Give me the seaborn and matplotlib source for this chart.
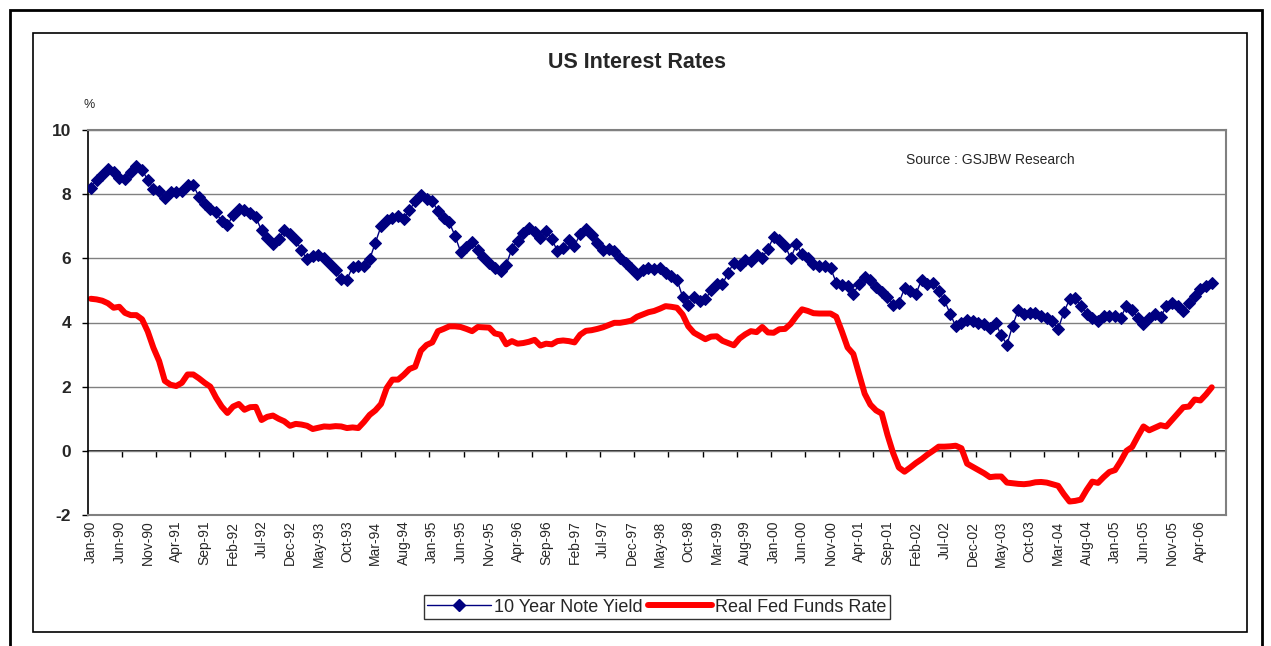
import numpy as np
import pandas as pd
import matplotlib
matplotlib.use("Agg")
import matplotlib.pyplot as plt
import seaborn as sns
from matplotlib.patches import Rectangle
from matplotlib.lines import Line2D

# monthly data, Jan-90 .. Jun-06
months = pd.date_range("1990-01-01", periods=198, freq="MS")

note_yield = [
    8.2, 8.45, 8.6, 8.78, 8.7, 8.5, 8.47, 8.68, 8.88, 8.75,
    8.45, 8.16, 8.1, 7.88, 8.08, 8.06, 8.1, 8.3, 8.28, 7.92,
    7.7, 7.55, 7.43, 7.15, 7.03, 7.35, 7.55, 7.5, 7.4, 7.28,
    6.87, 6.63, 6.45, 6.6, 6.88, 6.75, 6.58, 6.25, 5.97, 6.07,
    6.1, 6.0, 5.82, 5.65, 5.36, 5.33, 5.74, 5.76, 5.76, 5.97,
    6.48, 7.0, 7.18, 7.25, 7.32, 7.22, 7.5, 7.78, 7.98, 7.84,
    7.78, 7.48, 7.27, 7.12, 6.7, 6.2, 6.34, 6.52, 6.25, 6.05,
    5.85, 5.7, 5.6, 5.8, 6.3, 6.55, 6.8, 6.95, 6.82, 6.62,
    6.85, 6.6, 6.23, 6.33, 6.57, 6.4, 6.75, 6.9, 6.72, 6.49,
    6.25, 6.28, 6.22, 6.0, 5.86, 5.7, 5.5, 5.65, 5.7, 5.66,
    5.7, 5.55, 5.45, 5.34, 4.8, 4.56, 4.8, 4.67, 4.72, 5.0,
    5.19, 5.19, 5.55, 5.86, 5.8, 5.96, 5.92, 6.1, 6.02, 6.3,
    6.66, 6.58, 6.4, 6.0, 6.44, 6.12, 6.02, 5.81, 5.77, 5.76,
    5.7, 5.24, 5.18, 5.13, 4.9, 5.19, 5.42, 5.34, 5.1, 4.95,
    4.8, 4.56, 4.61, 5.06, 4.98, 4.88, 5.34, 5.2, 5.24, 4.98,
    4.7, 4.28, 3.88, 3.99, 4.09, 4.04, 3.99, 3.94, 3.83, 3.98,
    3.6, 3.31, 3.9, 4.4, 4.25, 4.3, 4.3, 4.2, 4.15, 4.04,
    3.8, 4.32, 4.72, 4.76, 4.5, 4.28, 4.13, 4.04, 4.2, 4.2,
    4.2, 4.15, 4.52, 4.38, 4.15, 3.96, 4.15, 4.28, 4.17, 4.5,
    4.6, 4.5, 4.35, 4.62, 4.82, 5.05, 5.14, 5.22,
]

real_fed_funds = [
    4.74, 4.72, 4.68, 4.6, 4.46, 4.49, 4.3, 4.23, 4.23, 4.1,
    3.72, 3.21, 2.8, 2.18, 2.06, 2.02, 2.12, 2.38, 2.38, 2.26,
    2.12, 2.0, 1.66, 1.38, 1.18, 1.38, 1.46, 1.28, 1.36, 1.37,
    0.96, 1.06, 1.1, 1.0, 0.92, 0.78, 0.84, 0.82, 0.78, 0.68,
    0.72, 0.76, 0.75, 0.77, 0.76, 0.71, 0.73, 0.71, 0.9, 1.12,
    1.26, 1.46, 1.96, 2.22, 2.22, 2.37, 2.55, 2.62, 3.12, 3.3,
    3.38, 3.73, 3.8, 3.88, 3.88, 3.86, 3.8, 3.73, 3.86, 3.85,
    3.84, 3.66, 3.62, 3.32, 3.42, 3.34, 3.36, 3.4, 3.46, 3.28,
    3.34, 3.32, 3.42, 3.44, 3.42, 3.38, 3.62, 3.74, 3.76, 3.8,
    3.85, 3.92, 3.99, 3.99, 4.02, 4.06, 4.18, 4.25, 4.32, 4.36,
    4.43, 4.51, 4.49, 4.46, 4.25, 3.88, 3.68, 3.58, 3.48, 3.56,
    3.57, 3.43, 3.36, 3.29, 3.5, 3.63, 3.73, 3.7, 3.86, 3.69,
    3.68, 3.79, 3.8, 3.96, 4.2, 4.41, 4.36, 4.29, 4.28, 4.28,
    4.28, 4.18, 3.72, 3.22, 3.02, 2.4, 1.78, 1.44, 1.26, 1.16,
    0.5, -0.07, -0.52, -0.65, -0.52, -0.38, -0.26, -0.12, 0.0, 0.13,
    0.13, 0.14, 0.16, 0.08, -0.4, -0.5, -0.6, -0.7, -0.82, -0.8,
    -0.8, -0.99, -1.01, -1.03, -1.04, -1.02, -0.98, -0.97, -0.99, -1.04,
    -1.09, -1.35, -1.58, -1.56, -1.52, -1.22, -0.96, -1.0, -0.82, -0.66,
    -0.6, -0.32, 0.0, 0.12, 0.45, 0.76, 0.64, 0.72, 0.8, 0.76,
    0.96, 1.16, 1.36, 1.38, 1.6, 1.57, 1.76, 1.98,
]

n_categories = 200
label_step = 5
tick_step = 6
y_ticks = [-2, 0, 2, 4, 6, 8, 10]

sns.set_style("white")
plt.rcParams['font.family'] = ['Liberation Sans', 'DejaVu Sans']

df = pd.DataFrame({'idx': np.arange(len(months)),
                   'yield': note_yield,
                   'real': real_fed_funds})

W, H = 1271, 646
fig = plt.figure(figsize=(W / 100, H / 100), dpi=100)
ax = fig.add_axes([88 / W, 1 - 515 / H, (1226 - 88) / W, (515 - 130) / H])

sns.lineplot(data=df, x='idx', y='real', color='#FF0000', lw=4.3, ax=ax,
             legend=False, zorder=2, solid_joinstyle='round', solid_capstyle='round')
sns.lineplot(data=df, x='idx', y='yield', color='#000080', lw=1, marker='D',
             markersize=6.3, markeredgecolor='#000080', markerfacecolor='#000080',
             ax=ax, legend=False, zorder=3)

ax.set_xlim(-0.5, n_categories - 0.5)
ax.set_ylim(-2, 10)
ax.set_xlabel('')
ax.set_ylabel('')

ax.set_yticks(y_ticks)
ax.set_yticklabels([str(v) for v in y_ticks], fontweight='bold', fontsize=12.5)
ax.tick_params(axis='y', length=4, width=1, color='black', pad=8, left=True)
ax.yaxis.grid(True, color='#808080', lw=1)
ax.set_axisbelow(True)

label_pos = list(range(0, len(months), label_step))
ax.set_xticks(label_pos)
ax.set_xticklabels([months[i].strftime('%b-%y') for i in label_pos],
                   rotation=90, fontsize=10)
ax.tick_params(axis='x', length=0, pad=4)

for s in ['top', 'right', 'bottom']:
    ax.spines[s].set_color('#808080')
    ax.spines[s].set_linewidth(1.5)
ax.spines['left'].set_color('black')
ax.spines['left'].set_linewidth(1.2)

# category axis crossing at 0, tick marks every 6 months
zero_axis = ax.secondary_xaxis(2 / 12)
zero_axis.set_xticks([-0.5 + tick_step * k for k in range(1, 34)])
zero_axis.set_xticklabels([])
zero_axis.tick_params(length=4, width=1, color='black', direction='out')
zero_axis.spines['bottom'].set_color('black')
zero_axis.spines['bottom'].set_linewidth(1.2)

fig.text(637 / W, 1 - 63 / H, 'US Interest Rates', ha='center', va='center',
         fontsize=15.5, fontweight='bold')
fig.text(83 / W, 1 - 105 / H, '%', ha='left', va='center', fontsize=9)
fig.text(906 / W, 1 - 160 / H, 'Source : GSJBW Research', ha='left', va='center',
         fontsize=10)

handles = [Line2D([], [], color='#000080', lw=1, marker='D', markersize=6.3),
           Line2D([], [], color='#FF0000', lw=4.3, solid_capstyle='round')]
leg = fig.legend(handles, ['10 Year Note Yield', 'Real Fed Funds Rate'],
                 loc='center', bbox_to_anchor=(657 / W, 1 - 607 / H), ncol=2,
                 frameon=True, fancybox=False, edgecolor='black', fontsize=13,
                 handlelength=3.5, handletextpad=0.2, columnspacing=0.3,
                 borderpad=0.2, borderaxespad=0)
leg.get_frame().set_linewidth(1)

fig.add_artist(Rectangle((33 / W, 1 - 632 / H), (1247 - 33) / W, (632 - 33) / H,
                         transform=fig.transFigure, fill=False, ec='black', lw=1.2))
fig.add_artist(Rectangle((10 / W, -0.05), (1262 - 10) / W, 1.05 - 10 / H,
                         transform=fig.transFigure, fill=False, ec='black', lw=2))

fig.savefig('out.png', dpi=100)
